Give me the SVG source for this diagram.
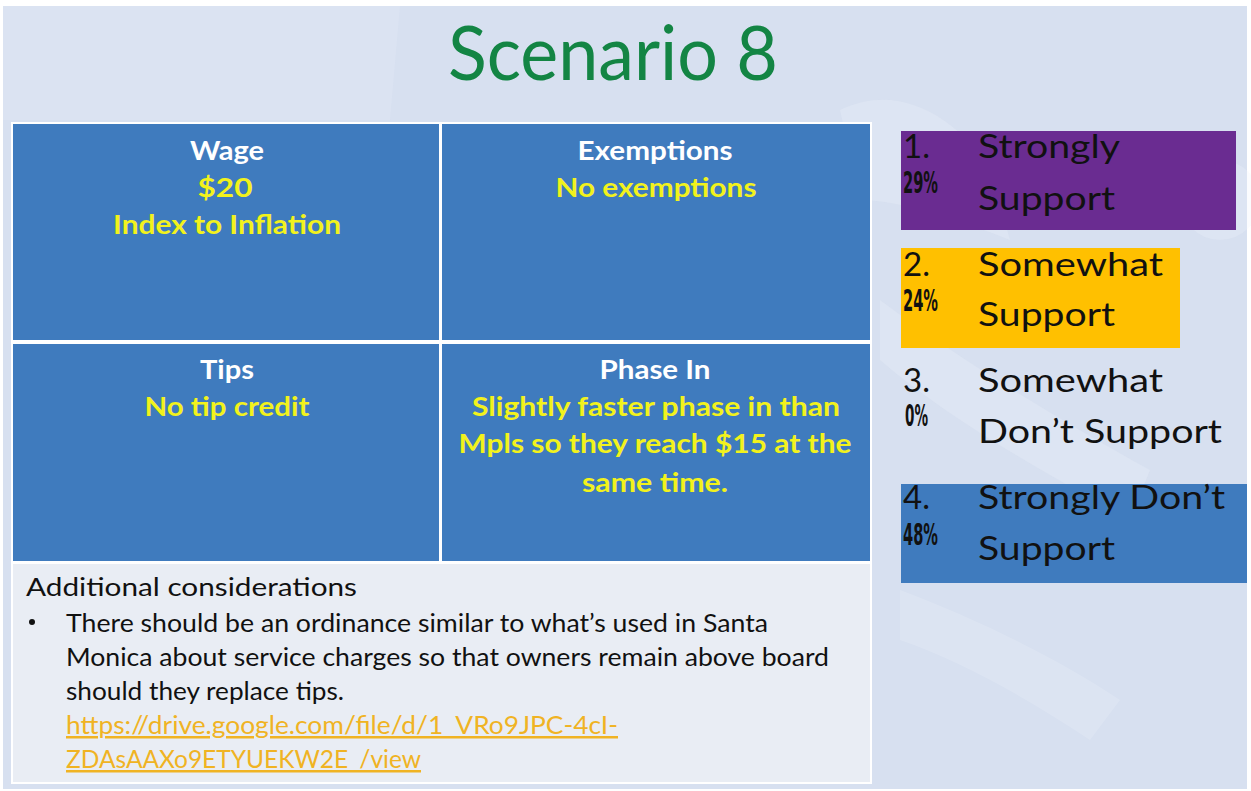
<svg xmlns="http://www.w3.org/2000/svg" width="1251" height="791" viewBox="0 0 1251 791">
<style>
.cal{font-family:Lato,"Open Sans","Liberation Sans",sans-serif}
.hd{font-family:Lato,"Open Sans","Liberation Sans",sans-serif;font-weight:bold;font-size:27px;fill:#FFFFFF;text-anchor:middle}
.yl{font-family:Lato,"Open Sans","Liberation Sans",sans-serif;font-weight:bold;font-size:27px;fill:#F2F21C;text-anchor:middle}
.cell{fill:#3F7BBE}
.opt{font-family:Lato,"Open Sans","Liberation Sans",sans-serif;font-size:33px;fill:#111111}
.pct{font-family:"Liberation Sans Narrow","DejaVu Sans Condensed","Liberation Sans",sans-serif;font-weight:bold;font-size:30px;fill:#111111}
.body{font-family:Lato,"Open Sans","Liberation Sans",sans-serif;font-size:25px;fill:#111111}
.link{font-family:Lato,"Open Sans","Liberation Sans",sans-serif;font-size:25px;fill:#F0B323;text-decoration:underline}
</style>
<rect x="0" y="0" width="1251" height="791" fill="#FFFFFF"/>
<rect x="3" y="6" width="1244" height="783" fill="#D7E0F0"/>
<path d="M3 6 H400 L390 120 H3 Z" fill="#DEE5F3" opacity="0.6"/>
<g opacity="0.25" fill="#EEF2FA">
<path d="M840 110 C900 80 960 120 990 170 L1010 240 C960 220 900 200 860 200 Z"/>
<path d="M880 300 C960 360 1060 420 1150 470 L1130 520 C1040 470 950 420 880 360 Z"/>
<path d="M900 590 C980 620 1060 660 1120 700 L1090 740 C1030 700 960 660 900 640 Z"/>
<circle cx="1220" cy="200" r="40"/>
</g>
<text x="613" y="80" class="cal" font-size="76" fill="#138544" text-anchor="middle" textLength="330" lengthAdjust="spacingAndGlyphs">Scenario 8</text>
<g id="table">
<rect x="11" y="122" width="861" height="662" fill="#FFFFFF"/>
<g id="wage">
<rect class="cell" x="13" y="124" width="426" height="216"/>
<text class="hd" x="227" y="160" textLength="74" lengthAdjust="spacingAndGlyphs">Wage</text>
<text class="yl" x="225" y="197" textLength="55" lengthAdjust="spacingAndGlyphs">$20</text>
<text class="yl" x="227" y="234" textLength="228" lengthAdjust="spacingAndGlyphs">Index to Inflation</text>
</g>
<g id="exemptions">
<rect class="cell" x="442" y="124" width="428" height="216"/>
<text class="hd" x="655" y="160" textLength="155" lengthAdjust="spacingAndGlyphs">Exemptions</text>
<text class="yl" x="656" y="197" textLength="201" lengthAdjust="spacingAndGlyphs">No exemptions</text>
</g>
<g id="tips">
<rect class="cell" x="13" y="344" width="426" height="217"/>
<text class="hd" x="227" y="379" textLength="54" lengthAdjust="spacingAndGlyphs">Tips</text>
<text class="yl" x="227" y="416" textLength="165" lengthAdjust="spacingAndGlyphs">No tip credit</text>
</g>
<g id="phasein">
<rect class="cell" x="442" y="344" width="428" height="217"/>
<text class="hd" x="655" y="379" textLength="111" lengthAdjust="spacingAndGlyphs">Phase In</text>
<text class="yl" x="656" y="416" textLength="368" lengthAdjust="spacingAndGlyphs">Slightly faster phase in than</text>
<text class="yl" x="655" y="453" textLength="393" lengthAdjust="spacingAndGlyphs">Mpls so they reach $15 at the</text>
<text class="yl" x="655" y="492" textLength="146" lengthAdjust="spacingAndGlyphs">same time.</text>
</g>
<g id="additional">
<rect x="13" y="564" width="857" height="218" fill="#E9EDF4"/>
<text class="body" x="26" y="596" textLength="331" lengthAdjust="spacingAndGlyphs">Additional considerations</text>
<circle cx="32" cy="622" r="3" fill="#111111"/>
<text class="body" x="66" y="632" textLength="702" lengthAdjust="spacingAndGlyphs">There should be an ordinance similar to what’s used in Santa</text>
<text class="body" x="66" y="666" textLength="763" lengthAdjust="spacingAndGlyphs">Monica about service charges so that owners remain above board</text>
<text class="body" x="66" y="700" textLength="278" lengthAdjust="spacingAndGlyphs">should they replace tips.</text>
<text class="link" x="66" y="734" textLength="552" lengthAdjust="spacingAndGlyphs">https://drive.google.com/file/d/1_VRo9JPC-4cI-</text>
<text class="link" x="66" y="768" textLength="355" lengthAdjust="spacingAndGlyphs">ZDAsAAXo9ETYUEKW2E_/view</text>
</g>
</g>
<g id="opt1">
<rect x="901" y="131" width="335" height="99" fill="#6A2C91"/>
<text class="opt" x="903" y="158">1.</text>
<text class="pct" x="903" y="193" textLength="35" lengthAdjust="spacingAndGlyphs">29%</text>
<text class="opt" x="978" y="158" textLength="142" lengthAdjust="spacingAndGlyphs">Strongly</text>
<text class="opt" x="978" y="210" textLength="137" lengthAdjust="spacingAndGlyphs">Support</text>
</g>
<g id="opt2">
<rect x="901" y="248" width="279" height="100" fill="#FFC000"/>
<text class="opt" x="903" y="276">2.</text>
<text class="pct" x="903" y="311" textLength="35" lengthAdjust="spacingAndGlyphs">24%</text>
<text class="opt" x="978" y="276" textLength="185" lengthAdjust="spacingAndGlyphs">Somewhat</text>
<text class="opt" x="978" y="326" textLength="137" lengthAdjust="spacingAndGlyphs">Support</text>
</g>
<g id="opt3">
<text class="opt" x="903" y="392">3.</text>
<text class="pct" x="905" y="426" textLength="23" lengthAdjust="spacingAndGlyphs">0%</text>
<text class="opt" x="978" y="392" textLength="185" lengthAdjust="spacingAndGlyphs">Somewhat</text>
<text class="opt" x="978" y="443" textLength="244" lengthAdjust="spacingAndGlyphs">Don’t Support</text>
</g>
<g id="opt4">
<rect x="901" y="484" width="346" height="99" fill="#3F7BBE"/>
<text class="opt" x="903" y="509">4.</text>
<text class="pct" x="903" y="545" textLength="35" lengthAdjust="spacingAndGlyphs">48%</text>
<text class="opt" x="978" y="509" textLength="247" lengthAdjust="spacingAndGlyphs">Strongly Don’t</text>
<text class="opt" x="978" y="560" textLength="137" lengthAdjust="spacingAndGlyphs">Support</text>
</g>
<g id="connectors"/>
</svg>
